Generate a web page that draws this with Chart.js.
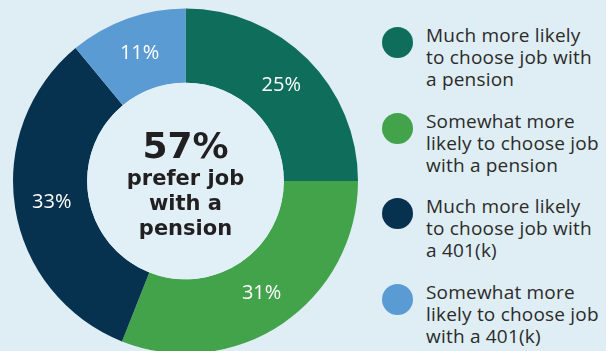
<!DOCTYPE html>
<html>
<head>
<meta charset="utf-8">
<script src="https://cdn.jsdelivr.net/npm/chart.js@4.4.1/dist/chart.umd.min.js"></script>
<style>
  html, body { margin: 0; padding: 0; }
  body { width: 606px; height: 351px; overflow: hidden; background: #dfedf4; position: relative; }
  #wrap { position: absolute; left: 0; top: 0; width: 371px; height: 362px; }
  #legend { position: absolute; left: 382px; top: 0; width: 224px; }
  .item { position: absolute; left: 0; width: 224px; }
  .dot { position: absolute; left: 0; width: 31px; height: 31px; border-radius: 50%; }
  .txt { position: absolute; left: 44px; white-space: nowrap; font-family: "Open Sans", sans-serif;
         font-size: 19px; line-height: 22px; color: #2b2b2b; letter-spacing: 0.2px; }
</style>
</head>
<body>
<div id="wrap"><canvas id="chart"></canvas></div>
<div id="legend"></div>
<script>
// Survey split: which retirement plan makes a job more attractive.
const labels = [
  ["Much more likely", "to choose job with", "a pension"],
  ["Somewhat more", "likely to choose job", "with a pension"],
  ["Much more likely", "to choose job with", "a 401(k)"],
  ["Somewhat more", "likely to choose job", "with a 401(k)"],
];
const shares = [25, 31, 33, 11];
const colors = ["#0f6e5b", "#43a34a", "#07324f", "#5b9bd4"];
const headline = "57%";
const headlineLines = ["prefer job", "with a", "pension"];

// Percent text in the middle of each ring segment.
const sliceLabels = {
  id: "sliceLabels",
  afterDatasetsDraw(chart) {
    const { ctx } = chart;
    const meta = chart.getDatasetMeta(0);
    ctx.save();
    ctx.fillStyle = "#ffffff";
    ctx.font = "500 20px 'Open Sans', sans-serif";
    ctx.textAlign = "center";
    ctx.textBaseline = "middle";
    meta.data.forEach((arc, i) => {
      const p = arc.getCenterPoint();
      ctx.fillText(shares[i] + "%", p.x, p.y);
    });
    ctx.restore();
  },
};

// Headline figure inside the hole.
const centerText = {
  id: "centerText",
  afterDraw(chart) {
    const { ctx } = chart;
    const arc = chart.getDatasetMeta(0).data[0];
    const cx = arc.x, cy = arc.y;
    ctx.save();
    ctx.fillStyle = "#e1f0f7";
    ctx.beginPath();
    ctx.arc(cx, cy, arc.innerRadius, 0, Math.PI * 2);
    ctx.fill();
    ctx.fillStyle = "#221f20";
    ctx.textAlign = "center";
    ctx.textBaseline = "alphabetic";
    ctx.font = "900 36px 'DejaVu Sans', sans-serif";
    ctx.fillText(headline, cx, cy - 23);
    ctx.font = "bold 21px 'DejaVu Sans', sans-serif";
    headlineLines.forEach((line, i) => {
      ctx.fillText(line, cx, cy + 4 + i * 25);
    });
    ctx.restore();
  },
};

new Chart(document.getElementById("chart"), {
  type: "doughnut",
  data: {
    labels: labels.map((l) => l.join(" ")),
    datasets: [{ data: shares, backgroundColor: colors, borderWidth: 0 }],
  },
  options: {
    responsive: true,
    maintainAspectRatio: false,
    animation: false,
    cutout: "57%",
    layout: { padding: 8.5 },
    plugins: { legend: { display: false }, tooltip: { enabled: false } },
  },
  plugins: [sliceLabels, centerText],
});

// Legend on the right, one dot + three lines per category.
const legend = document.getElementById("legend");
labels.forEach((lines, i) => {
  const item = document.createElement("div");
  item.className = "item";
  item.style.top = 24 + i * 85.7 + "px";
  item.innerHTML =
    `<div class="dot" style="top:3px;background:${colors[i]}"></div>` +
    `<div class="txt">${lines.join("<br>")}</div>`;
  legend.appendChild(item);
});
</script>
</body>
</html>
